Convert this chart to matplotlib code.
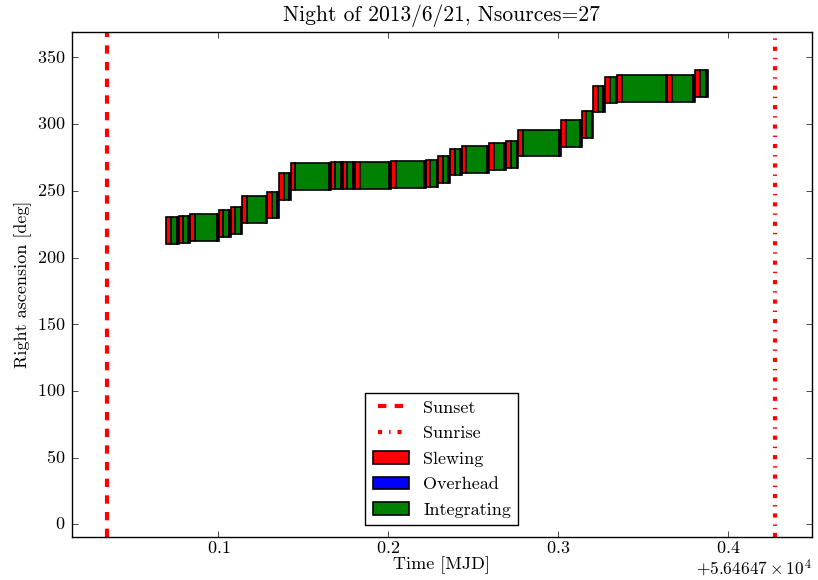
import matplotlib
matplotlib.use("Agg")
import matplotlib.pyplot as plt
from matplotlib.patches import Rectangle
from matplotlib.ticker import ScalarFormatter, MultipleLocator
from matplotlib.transforms import ScaledTranslation

plt.style.use("classic")
plt.rcParams.update({
    "font.family": ["cmr10", "DejaVu Serif"],
    "mathtext.fontset": "cm",
    "axes.formatter.use_mathtext": True,
    "figure.facecolor": "white",
    "savefig.facecolor": "white",
    "font.size": 13,
    "legend.fontsize": 13,
})

title = "Night of 2013/6/21, Nsources=27"
mjd_offset = 56464.7
sunset_mjd = 56464.7345
sunrise_mjd = 56465.1274

# Box boundaries (MJD): source i spans [bounds[i], bounds[i+1]]
bounds = [56464.76924, 56464.77647, 56464.78335, 56464.80012, 56464.80729,
          56464.81412, 56464.82882, 56464.83571, 56464.84259, 56464.86612,
          56464.87318, 56464.88041, 56464.90159, 56464.92200, 56464.92941,
          56464.93629, 56464.94318, 56464.95924, 56464.96924, 56464.97647,
          56465.00159, 56465.01376, 56465.02059, 56465.02747, 56465.03471,
          56465.06412, 56465.08041, 56465.08788]
# Right ascension of each source (deg)
ra = [220.2, 221.0, 222.4, 225.6, 228.0, 236.0, 239.3, 253.5, 260.8, 261.4,
      261.6, 261.6, 262.2, 262.8, 266.1, 271.6, 273.4, 276.0, 277.5, 286.0,
      292.8, 299.6, 318.8, 325.7, 326.8, 326.8, 330.6]
# Slewing and overhead durations for each source (days)
slew = [0.0026] * 27
overhead = [0.0011] * 27
box_height = 20.0

fig = plt.figure(figsize=(8.18, 5.8), dpi=100)
ax = fig.add_axes([0.088, 0.0745, 0.9043, 0.8708])

for i in range(len(ra)):
    t0, t1 = bounds[i], bounds[i + 1]
    y0 = ra[i] - box_height / 2
    ts = t0 + slew[i]
    to = t1 - overhead[i]
    ax.add_patch(Rectangle((t0, y0), ts - t0, box_height, facecolor="r",
                           edgecolor="k", lw=1.2, label="Slewing" if i == 0 else None))
    ax.add_patch(Rectangle((ts, y0), to - ts, box_height, facecolor="g",
                           edgecolor="k", lw=1.2, label="Integrating" if i == 0 else None))
    ax.add_patch(Rectangle((to, y0), t1 - to, box_height, facecolor="b",
                           edgecolor="k", lw=1.2, label="Overhead" if i == 0 else None))

ax.axvline(sunset_mjd, color="r", lw=3, dashes=(6, 6), label="Sunset")
ax.axvline(sunrise_mjd, color="r", lw=3, dashes=(3, 5, 1, 5), label="Sunrise")

handles, labels = ax.get_legend_handles_labels()
order = ["Sunset", "Sunrise", "Slewing", "Overhead", "Integrating"]
hmap = dict(zip(labels, handles))
ax.legend([hmap[k] for k in order], order, loc="lower center", numpoints=2,
          handlelength=2.0, labelspacing=0.55, fancybox=False, shadow=False,
          borderaxespad=0.65)

ax.set_xlim(56464.7138, 56465.1490)
ax.set_ylim(-9.3, 369.3)
ax.yaxis.set_major_locator(MultipleLocator(50))
ax.xaxis.set_major_locator(MultipleLocator(0.1))
fmt = ScalarFormatter(useOffset=mjd_offset, useMathText=True)
ax.xaxis.set_major_formatter(fmt)
otext = ax.xaxis.get_offset_text()
otext.set_verticalalignment("top")
otext.set_fontsize(12.5)
otext.set_transform(otext.get_transform() +
                    ScaledTranslation(0, 2.0 / 72, fig.dpi_scale_trans))

ax.set_title(title, fontsize=15.5, pad=8)
ax.set_xlabel("Time [MJD]", fontsize=13, labelpad=0)
ax.set_ylabel("Right ascension [deg]", fontsize=13, labelpad=3)
ax.tick_params(direction="in", length=4, top=True, right=True, labelsize=13, pad=5)
ax.tick_params(axis="x", pad=2.5)

fig.savefig("out.png", dpi=100)
